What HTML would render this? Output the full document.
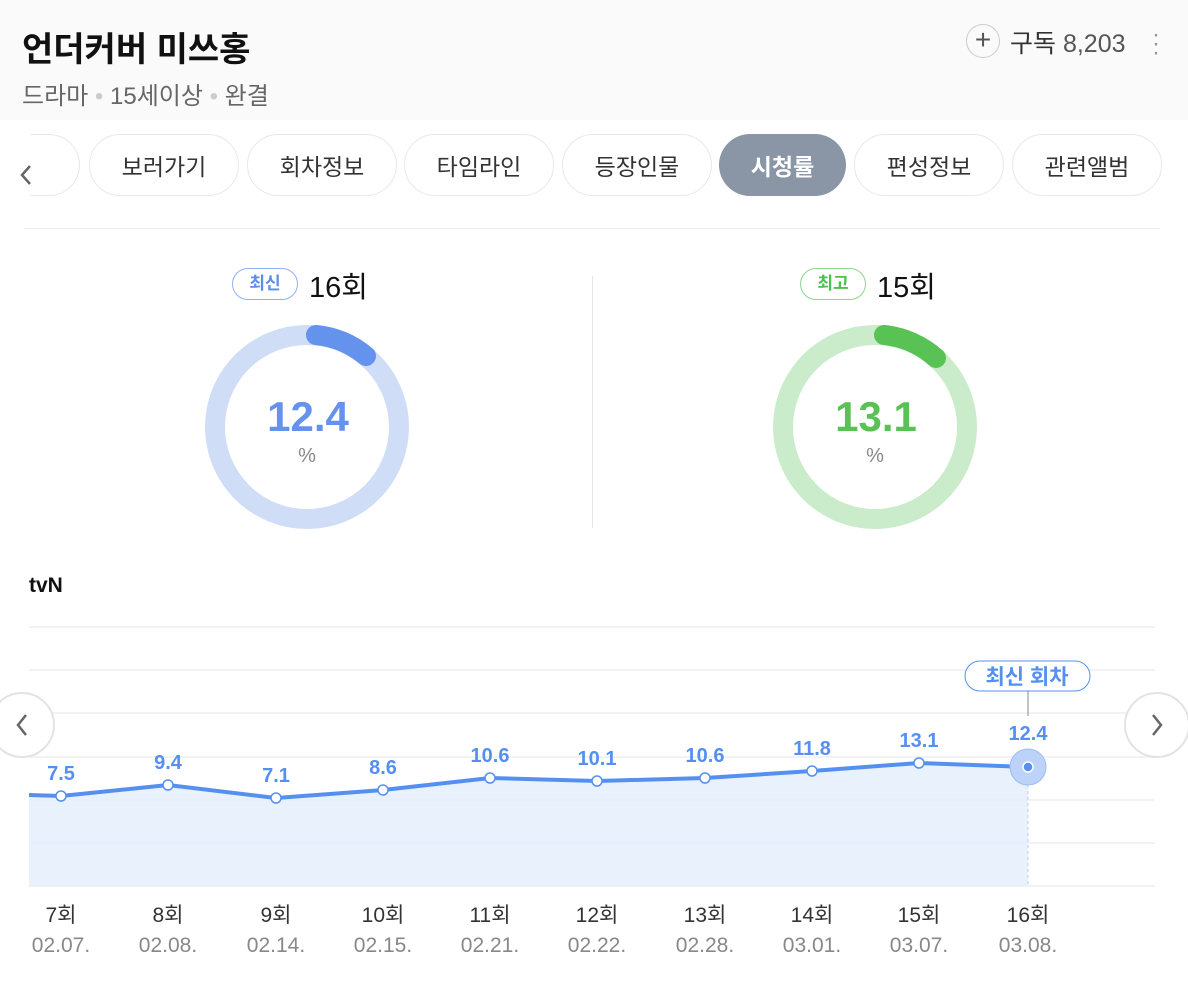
<!DOCTYPE html>
<html><head><meta charset="utf-8"><style>
body{margin:0;width:1188px;height:981px;background:#fff;font-family:"Liberation Sans","Noto Sans CJK KR",sans-serif;position:relative;overflow:hidden}
.a{position:absolute;white-space:nowrap}
.tab{position:absolute;top:134px;height:62px;border:1px solid #e6e8eb;border-radius:31px;box-sizing:border-box;font-size:23px;color:#333;display:flex;align-items:center;justify-content:center}
</style></head><body>
<div class="a" style="left:0;top:0;width:1188px;height:120px;background:#fafafa"></div>
<div class="a" style="left:22px;top:22px;font-size:34px;font-weight:bold;color:#111">언더커버 미쓰홍</div>
<div class="a" style="left:22px;top:76px;font-size:24px;color:#666">드라마 <span style="color:#ccc">•</span> 15세이상 <span style="color:#ccc">•</span> 완결</div>
<div class="a" style="left:966px;top:24px;width:34px;height:34px;border:1px solid #ccc;border-radius:50%;box-sizing:border-box;text-align:center;line-height:30px;font-size:28px;color:#555">+</div>
<div class="a" style="left:1010px;top:24px;font-size:25px;color:#333">구독 <span style="color:#555">8,203</span></div>
<div class="a" style="left:1152px;top:30px;font-size:24px;color:#999;line-height:9px">·<br>·<br>·</div>
<svg class="a" style="left:16px;top:162px" width="20" height="26"><path d="M14 4 L6 13 L14 22" fill="none" stroke="#666" stroke-width="2.5"/></svg>
<div class="tab" style="left:30px;width:50px;border-left:none;border-radius:0 31px 31px 0"></div>
<div class="tab" style="left:89px;width:150px">보러가기</div>
<div class="tab" style="left:247px;width:150px">회차정보</div>
<div class="tab" style="left:404px;width:150px">타임라인</div>
<div class="tab" style="left:562px;width:150px">등장인물</div>
<div class="tab" style="left:719px;width:127px;background:#8a95a6;border:none;color:#fff;font-weight:bold">시청률</div>
<div class="tab" style="left:854px;width:150px">편성정보</div>
<div class="tab" style="left:1012px;width:150px">관련앨범</div>
<div class="a" style="left:24px;top:228px;width:1136px;height:1px;background:#eee"></div>
<div class="a" style="left:592px;top:276px;width:1px;height:252px;background:#e5e5e5"></div>
<div class="a" style="left:232px;top:268px;width:66px;height:32px;border:1px solid #8fb0f2;border-radius:16px;box-sizing:border-box;text-align:center;line-height:29px;font-size:17px;font-weight:bold;color:#5d8de8">최신</div>
<div class="a" style="left:309px;top:264px;font-size:29px;color:#111">16회</div>
<div class="a" style="left:800px;top:268px;width:66px;height:32px;border:1px solid #8cd68f;border-radius:16px;box-sizing:border-box;text-align:center;line-height:29px;font-size:17px;font-weight:bold;color:#4fbf4f">최고</div>
<div class="a" style="left:877px;top:264px;font-size:29px;color:#111">15회</div>
<svg class="a" style="left:0;top:0" width="1188" height="981">
<circle cx="307" cy="427" r="92" fill="none" stroke="#d0ddf7" stroke-width="20"/>
<path d="M316 335 A92 92 0 0 1 366 356" fill="none" stroke="#6592ec" stroke-width="20" stroke-linecap="round"/>
<circle cx="875" cy="427" r="92" fill="none" stroke="#cbecca" stroke-width="20"/>
<path d="M884 335 A92 92 0 0 1 936 358" fill="none" stroke="#58c255" stroke-width="20" stroke-linecap="round"/>
<text x="308" y="431" text-anchor="middle" font-size="42" font-weight="bold" fill="#6592ec" font-family="Liberation Sans">12.4</text>
<text x="307" y="462" text-anchor="middle" font-size="20" fill="#888" font-family="Liberation Sans">%</text>
<text x="876" y="431" text-anchor="middle" font-size="42" font-weight="bold" fill="#58c255" font-family="Liberation Sans">13.1</text>
<text x="875" y="462" text-anchor="middle" font-size="20" fill="#888" font-family="Liberation Sans">%</text>
<g stroke="#f1f2f4" stroke-width="2">
<line x1="29" x2="1155" y1="627" y2="627"/><line x1="29" x2="1155" y1="670" y2="670"/><line x1="29" x2="1155" y1="713" y2="713"/><line x1="29" x2="1155" y1="757" y2="757"/><line x1="29" x2="1155" y1="800" y2="800"/><line x1="29" x2="1155" y1="843" y2="843"/><line x1="29" x2="1155" y1="886" y2="886"/>
</g>
<polygon points="29,795 61,796 168,785 276,798 383,790 490,778 597,781 705,778 812,771 919,763 1028,767 1028,886 29,886" fill="#e4edfc" opacity="0.8"/>
<line x1="1028" y1="767" x2="1028" y2="886" stroke="#b9cdf5" stroke-dasharray="3,3"/>
<line x1="1028" y1="690" x2="1028" y2="716" stroke="#888"/>
<polyline points="29,795 61,796 168,785 276,798 383,790 490,778 597,781 705,778 812,771 919,763 1028,767" fill="none" stroke="#5590f0" stroke-width="4"/>
<circle cx="1028" cy="767" r="18" fill="#bcd2f8" stroke="#9dbcf4"/>
<g fill="#fff" stroke="#5590f0" stroke-width="1.5">
<circle cx="61" cy="796" r="5"/><circle cx="168" cy="785" r="5"/><circle cx="276" cy="798" r="5"/><circle cx="383" cy="790" r="5"/><circle cx="490" cy="778" r="5"/><circle cx="597" cy="781" r="5"/><circle cx="705" cy="778" r="5"/><circle cx="812" cy="771" r="5"/><circle cx="919" cy="763" r="5"/></g>
<circle cx="1028" cy="767" r="5" fill="#5590f0" stroke="#fff" stroke-width="1.5"/>
<g font-family="Liberation Sans" font-size="20" font-weight="bold" fill="#5590f0" text-anchor="middle">
<text x="61" y="780">7.5</text><text x="168" y="769">9.4</text><text x="276" y="782">7.1</text><text x="383" y="774">8.6</text><text x="490" y="762">10.6</text><text x="597" y="765">10.1</text><text x="705" y="762">10.6</text><text x="812" y="755">11.8</text><text x="919" y="747">13.1</text><text x="1028" y="740">12.4</text></g>
<rect x="965" y="661" width="125" height="30" rx="15" fill="#fff" stroke="#5590f0"/>
<text x="1027" y="684" text-anchor="middle" font-size="21" font-weight="bold" fill="#5590f0" font-family="Liberation Sans,Noto Sans CJK KR">최신 회차</text>
<g font-family="Liberation Sans,Noto Sans CJK KR" text-anchor="middle" font-size="21">
<g fill="#333"><text x="61" y="922">7회</text><text x="168" y="922">8회</text><text x="276" y="922">9회</text><text x="383" y="922">10회</text><text x="490" y="922">11회</text><text x="597" y="922">12회</text><text x="705" y="922">13회</text><text x="812" y="922">14회</text><text x="919" y="922">15회</text><text x="1028" y="922">16회</text></g>
<g fill="#888"><text x="61" y="952">02.07.</text><text x="168" y="952">02.08.</text><text x="276" y="952">02.14.</text><text x="383" y="952">02.15.</text><text x="490" y="952">02.21.</text><text x="597" y="952">02.22.</text><text x="705" y="952">02.28.</text><text x="812" y="952">03.01.</text><text x="919" y="952">03.07.</text><text x="1028" y="952">03.08.</text></g></g>
<circle cx="22" cy="725" r="32" fill="#fff" stroke="#e3e3e3" stroke-width="2"/>
<path d="M26 715 L18 725 L26 735" fill="none" stroke="#666" stroke-width="2.5"/>
<circle cx="1157" cy="725" r="32" fill="#fff" stroke="#e3e3e3" stroke-width="2"/>
<path d="M1153 715 L1161 725 L1153 735" fill="none" stroke="#666" stroke-width="2.5"/>
</svg>
<div class="a" style="left:29px;top:574px;font-size:21px;font-weight:bold;color:#111">tvN</div>
</body></html>
